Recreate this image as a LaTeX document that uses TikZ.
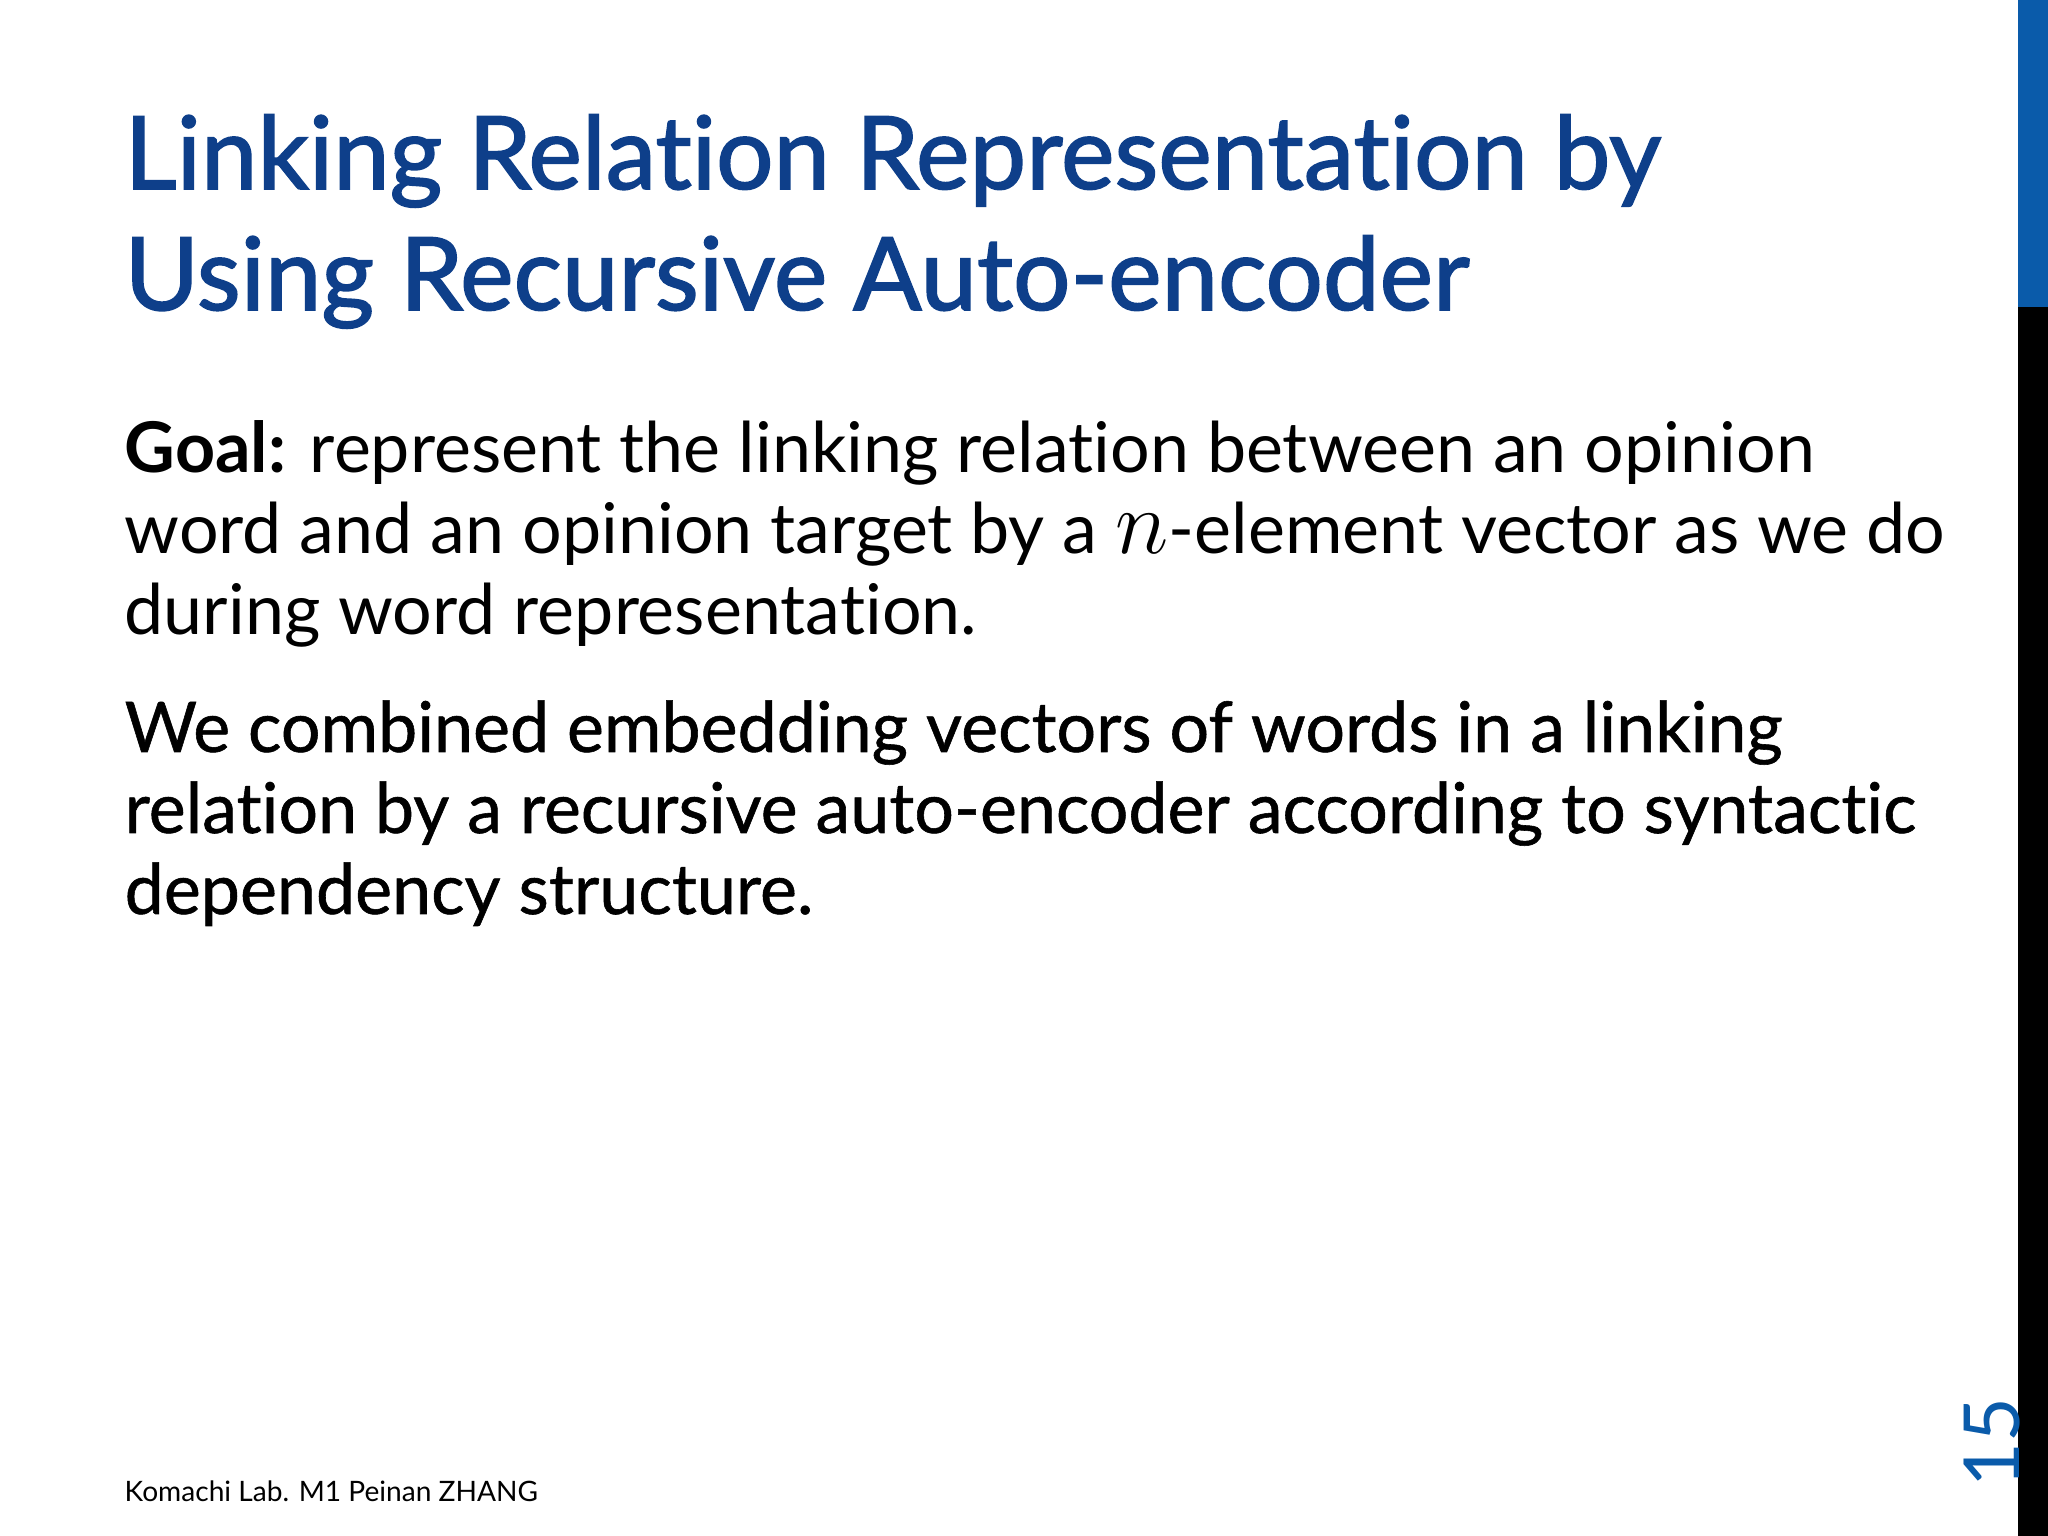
\documentclass[tikz,border=0pt]{standalone}
\usepackage{fontspec}
\setmainfont[Ligatures=NoCommon]{Lato}
\definecolor{ttl}{HTML}{0E3F8A}
\definecolor{barblue}{HTML}{0A5BAA}
\begin{document}
\begin{tikzpicture}[x=1cm,y=1cm,
  tline/.style={anchor=base west,inner sep=0,text=ttl,font=\fontsize{28.8}{34}\selectfont\addfontfeature{FakeBold=1.6}},
  bline/.style={anchor=base west,inner sep=0,font=\fontsize{19.9}{24}\selectfont},
  bline2/.style={bline,font=\fontsize{19.9}{24}\selectfont\addfontfeature{FakeBold=0.8}}]
\useasboundingbox (0,0) rectangle (20.48,15.36);
\fill[white] (0,0) rectangle (20.48,15.36);
\fill[barblue] (20.18,12.29) rectangle (20.48,15.36);
\fill[black] (20.18,0) rectangle (20.48,12.29);
\node[tline] (t1) at (1.24,13.47) {Linking Relation Representation by};
\node[tline] (t2) at (1.24,12.26) {Using Recursive Auto-encoder};
\node[bline] (b1) at (1.24,10.63) {\textbf{Goal:} represent the linking relation between an opinion};
\node[bline] (b2) at (1.24,9.82) {word and an opinion target by a \scalebox{1.25}{$n$}-element vector as we do};
\node[bline] (b3) at (1.24,9.01) {during word representation.};
\node[bline2] (c1) at (1.24,7.84) {We combined embedding vectors of words in a linking};
\node[bline2] (c2) at (1.24,7.03) {relation by a recursive auto-encoder according to syntactic};
\node[bline2] (c3) at (1.24,6.22) {dependency structure.};
\node[anchor=base west,inner sep=0,font=\fontsize{8}{10}\selectfont] (ft) at (1.24,0.34) {Komachi Lab. M1 Peinan ZHANG};
\node[rotate=90,inner sep=0,text=barblue,font=\fontsize{22}{26}\selectfont\addfontfeature{}] (pg) at (19.92,0.93) {15};
\end{tikzpicture}
\end{document}
